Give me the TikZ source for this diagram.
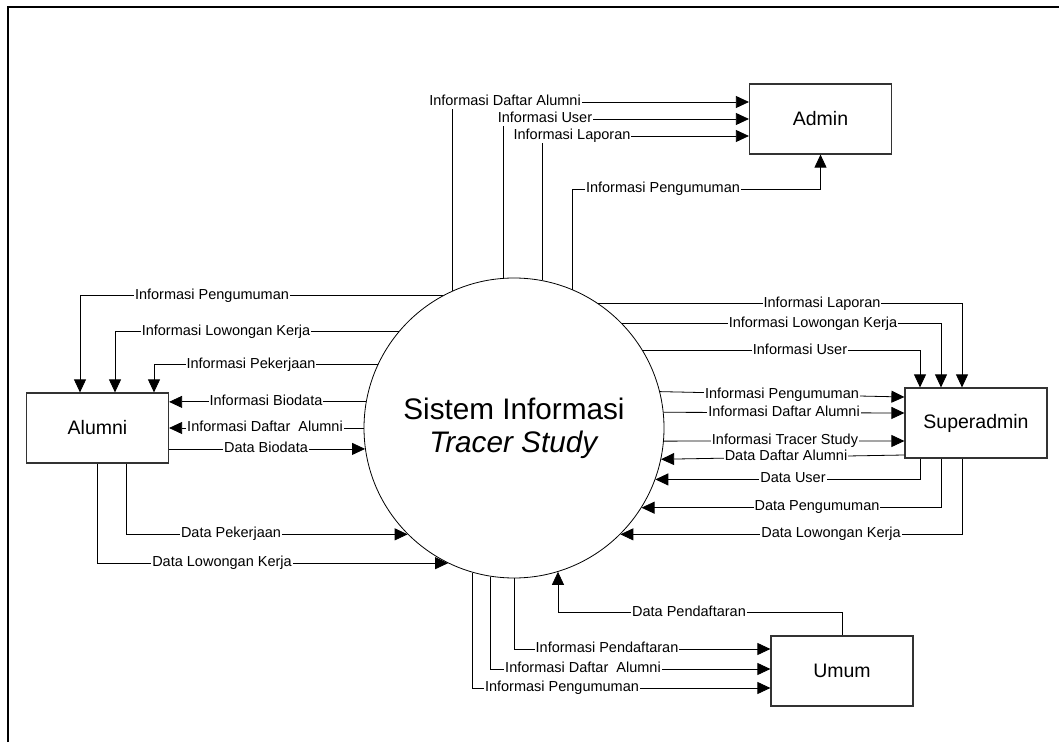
\documentclass[tikz,border=0pt]{standalone}
\usepackage{fontspec}
\setmainfont{Liberation Sans}
\usetikzlibrary{calc,arrows.meta}

\begin{document}
\begin{tikzpicture}[x=1pt,y=1pt,
        entity/.style={draw=black!80,line width=1.2pt,minimum width=142pt,minimum height=70pt,
            font=\fontsize{19.5}{22}\selectfont},
        descr/.style={fill=white,inner xsep=1pt,inner ysep=0.5pt,text height=10.5pt,text depth=3pt,
            font=\fontsize{14.5}{16}\selectfont},
        flow/.style={draw,line width=0.8pt,-{Triangle[length=13pt,width=12pt]}}]
        \useasboundingbox (0,0) rectangle (1059,742);
        \draw[line width=1.6pt] (8,0) |- (1059,735);

        \node[circle,draw,line width=0.8pt,minimum size=300pt,inner sep=0pt,align=center,
            font=\fontsize{29.7}{33}\selectfont] (sys) at (514,314) {Sistem Informasi\\\textit{Tracer Study}};
        \node[entity] (admin)      at (820.5,623) {Admin};
        \node[entity] (alumni)     at (97.5,314)  {Alumni};
        \node[entity] (superadmin) at (976,319)   {Superadmin};
        \node[entity] (umum)       at (842,71)    {Umum};

        \draw[flow] (sys.114) |- ([yshift=17pt]admin.west);
        \draw[flow] (sys.94)  |- (admin.west);
        \draw[flow] (sys.79)  |- ([yshift=-17pt]admin.west);
        \draw[flow] (sys.67)  |- ([yshift=-35pt]admin.south) -- (admin.south);

        \draw[flow] (sys.118) -| ([xshift=-17.5pt]alumni.north);
        \draw[flow] (sys.140) -| ([xshift=17.5pt]alumni.north);
        \draw[flow] (sys.155) -| ([xshift=56.5pt]alumni.north);
        \draw[flow] (sys.170) -- (sys.170 -| alumni.east);
        \draw[flow] (sys.west) -- (alumni.east);
        \draw[flow] (sys.188 -| alumni.east) -- (sys.188);
        \draw[flow] ([xshift=28.5pt]alumni.south) |- (sys.225);
        \draw[flow] (alumni.south) |- (sys.244);

        \draw[flow] (sys.56) -| ([xshift=-14pt]superadmin.north);
        \draw[flow] (sys.44) -| ([xshift=-35pt]superadmin.north);
        \draw[flow] (sys.31) -| ([xshift=-56pt]superadmin.north);
        \draw[flow] (sys.14) -- ([yshift=26pt]superadmin.west);
        \draw[flow] (sys.6)  -- ([yshift=10pt]superadmin.west);
        \draw[flow] (sys.-5) -- ([yshift=-18pt]superadmin.west);
        \draw[flow] ([yshift=-32pt]superadmin.west) -- (sys.-12);
        \draw[flow] ([xshift=-56pt]superadmin.south) |- (sys.-20);
        \draw[flow] ([xshift=-35pt]superadmin.south) |- (sys.-32);
        \draw[flow] ([xshift=-14pt]superadmin.south) |- (sys.-45);

        \draw[flow] (umum.north) -- ++(0,23) -| (sys.-73);
        \draw[flow] (sys.south) |- ([yshift=22pt]umum.west);
        \draw[flow] (sys.-99)   |- ([yshift=2pt]umum.west);
        \draw[flow] (sys.-106)  |- ([yshift=-17pt]umum.west);

        \node[descr] (ad1) at (505,640) {Informasi Daftar Alumni};
        \node[descr] (ad2) at (545,623) {Informasi User};
        \node[descr] (ad3) at (572,606) {Informasi Laporan};
        \node[descr] (ad4) at (663,553) {Informasi Pengumuman};

        \node[descr] (al1) at (212,446) {Informasi Pengumuman};
        \node[descr] (al2) at (226,410) {Informasi Lowongan Kerja};
        \node[descr] (al3) at (251,377) {Informasi Pekerjaan};
        \node[descr] (al4) at (266,340) {Informasi Biodata};
        \node[descr] (al5) at (265,314) {Informasi Daftar\ \ Alumni};
        \node[descr] (al6) at (266,293) {Data Biodata};
        \node[descr] (al7) at (231,208) {Data Pekerjaan};
        \node[descr] (al8) at (222,179) {Data Lowongan Kerja};

        \node[descr] (sa1)  at (822,438) {Informasi Laporan};
        \node[descr] (sa2)  at (813,418) {Informasi Lowongan Kerja};
        \node[descr] (sa3)  at (800,391) {Informasi User};
        \node[descr] (sa4)  at (782,347) {Informasi Pengumuman};
        \node[descr] (sa5)  at (784,329) {Informasi Daftar Alumni};
        \node[descr] (sa6)  at (785,301) {Informasi Tracer Study};
        \node[descr] (sa7)  at (786,285) {Data Daftar Alumni};
        \node[descr] (sa8)  at (793,263) {Data User};
        \node[descr] (sa9)  at (817,235) {Data Pengumuman};
        \node[descr] (sa10) at (831,208) {Data Lowongan Kerja};

        \node[descr] (um1) at (689,129) {Data Pendaftaran};
        \node[descr] (um2) at (607,93)  {Informasi Pendaftaran};
        \node[descr] (um3) at (583,73)  {Informasi Daftar\ \ Alumni};
        \node[descr] (um4) at (562,54)  {Informasi Pengumuman};
\end{tikzpicture}
\end{document}
